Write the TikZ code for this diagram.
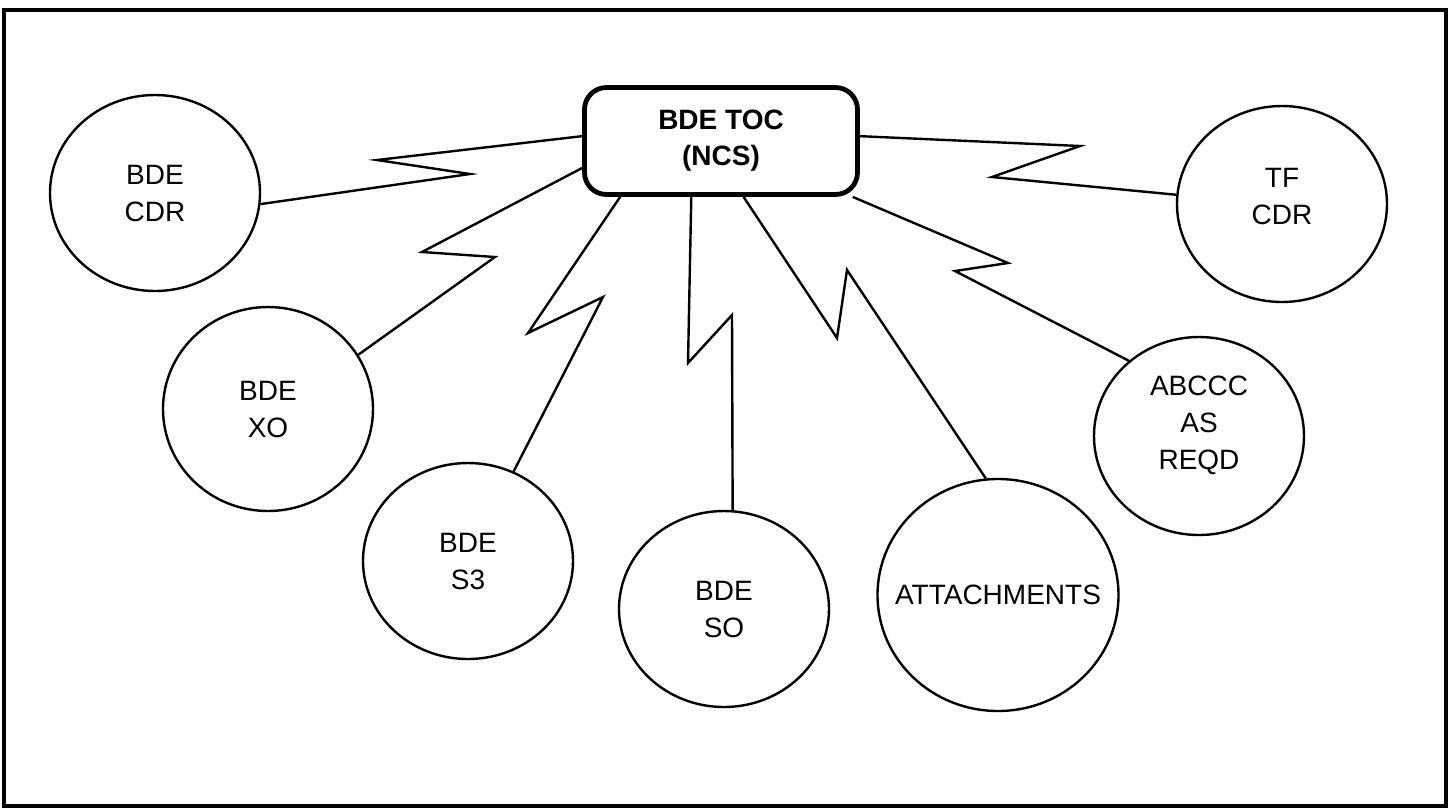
\documentclass[tikz,border=0pt]{standalone}
\usepackage{fontspec}
\setmainfont{Liberation Sans}
\usetikzlibrary{shapes.geometric}

\begin{document}
\begin{tikzpicture}[
    x=0.5pt, y=-0.5pt,
    hub/.style={rectangle, draw, line width=2.4pt, rounded corners=11pt, minimum width=136.5pt, minimum height=53.5pt, align=center, font=\bfseries\fontsize{14}{18}\selectfont},
    bubble/.style={ellipse, draw, line width=1.2pt, minimum width=105pt, minimum height=98pt},
    every label/.style={align=center, font=\fontsize{14}{18.5}\selectfont},
    bolt/.style={line width=1.2pt, line join=miter},
  ]
  \useasboundingbox (0,0) rectangle (1452,811);
  % outer frame
  \draw[line width=2.2pt] (4,10) rectangle (1446,806);

  % central node
  \node[hub] (toc) at (721,141) {BDE TOC\\(NCS)};

  % stations
  \node[bubble, label={center:BDE\\CDR}] (cdr) at (155,193) {};
  \node[bubble, minimum height=102pt, label={center:BDE\\XO}] (xo) at (268,409) {};
  \node[bubble, label={center:BDE\\S3}] (s3) at (468,561) {};
  \node[bubble, label={center:BDE\\SO}] (so) at (724,609) {};
  \node[bubble, minimum width=120.5pt, minimum height=116pt, label={center:ATTACHMENTS}] (att) at (998,595) {};
  \node[bubble, minimum height=99pt, label={[yshift=5.5pt]center:ABCCC\\AS\\REQD}] (abccc) at (1199,436) {};
  \node[bubble, label={[yshift=4pt]center:TF\\CDR}] (tf) at (1282,204) {};

  % radio links
  \draw[bolt] (toc.178) -- (377,160) -- (470,174) -- (cdr.-6);
  \draw[bolt] (toc.191) -- (422,252) -- (495,257) -- (xo.31);
  \draw[bolt] (toc.209) -- (528,333) -- (603,297) -- (s3.63);
  \draw[bolt] (toc.242) -- (688,363) -- (732,315) -- (so.85);
  \draw[bolt] (toc.292) -- (837,338) -- (847,270) -- (att.96);
  \draw[bolt] (toc.337) -- (1008,263) -- (955,271) -- (abccc.133);
  \draw[bolt] (toc.2) -- (1080,146) -- (992,177) -- (tf.175);
\end{tikzpicture}
\end{document}
